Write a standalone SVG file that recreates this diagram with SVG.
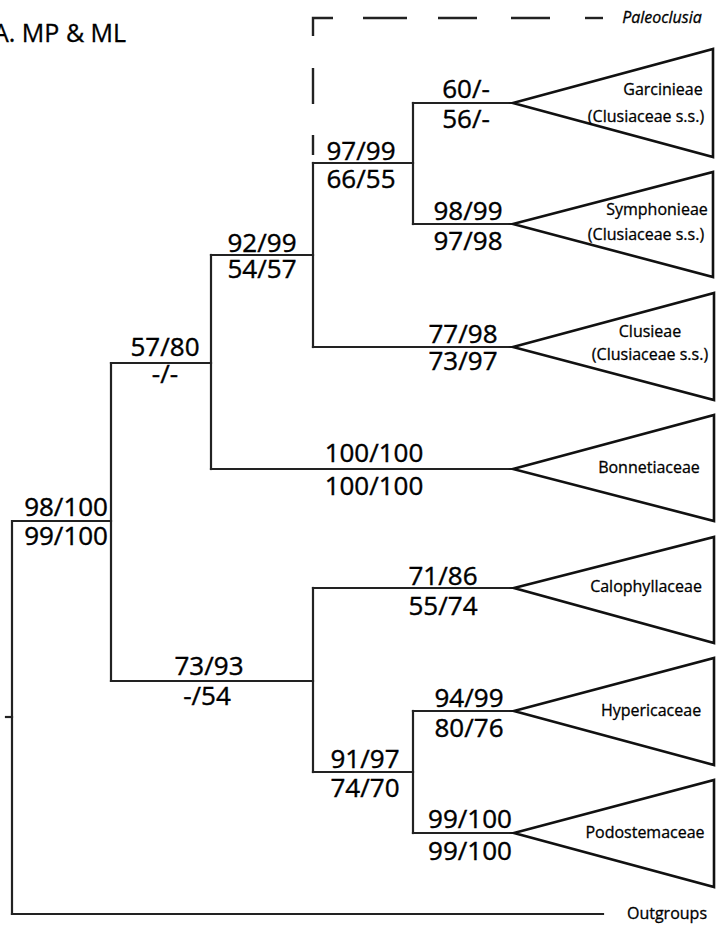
<svg xmlns="http://www.w3.org/2000/svg" width="717" height="926" viewBox="0 0 717 926">
<style>
.br{fill:none;stroke:#222;stroke-width:2.2;stroke-linecap:square}
.dash{fill:none;stroke:#222;stroke-width:2.4}
.tri{fill:#fff;stroke:#111;stroke-width:2.6;stroke-linejoin:miter}
.n{font-family:"Open Sans","Liberation Sans",sans-serif;font-size:26px;fill:#000;stroke:#000;stroke-width:0.4;text-anchor:middle}
.c{font-family:"Open Sans","Liberation Sans",sans-serif;font-size:16px;fill:#000;stroke:#000;stroke-width:0.3;text-anchor:middle}
.t{font-family:"Open Sans","Liberation Sans",sans-serif;font-size:25px;fill:#000;stroke:#000;stroke-width:0.3}
</style>
<rect width="717" height="926" fill="#fff"/>
<text class="t" x="-7" y="42">A. MP &amp; ML</text>

<g id="connectors">
<path class="br" d="M12,914 V521 H111"/>
<path class="br" d="M111,363 V681"/>
<path class="br" d="M111,363 H211"/>
<path class="br" d="M111,681 H313"/>
<path class="br" d="M211,255 V469"/>
<path class="br" d="M211,255 H313"/>
<path class="br" d="M211,469 H513"/>
<path class="br" d="M313,163 V347"/>
<path class="br" d="M313,163 H413"/>
<path class="br" d="M313,347 H513"/>
<path class="br" d="M413,103 V224"/>
<path class="br" d="M413,103 H513"/>
<path class="br" d="M413,224 H513"/>
<path class="br" d="M313,588 V772"/>
<path class="br" d="M313,588 H514"/>
<path class="br" d="M313,772 H413"/>
<path class="br" d="M413,711 V833"/>
<path class="br" d="M413,711 H514"/>
<path class="br" d="M413,833 H514"/>
<path class="br" d="M12,914 H603"/>
<path class="br" d="M6,717 H12"/>
<g id="paleoclusia-dashes">
<path class="dash" d="M313,155 V135"/>
<path class="dash" d="M313,104 V68"/>
<path class="dash" d="M313,36 V18 H333"/>
<path class="dash" d="M363,18 H407"/>
<path class="dash" d="M438,18 H477"/>
<path class="dash" d="M511,18 H550"/>
<path class="dash" d="M585,18 H603"/>
</g>
</g>

<g id="paleoclusia"><text class="c" x="662" y="23" font-style="italic">Paleoclusia</text></g>

<g id="garcinieae">
<polygon class="tri" points="513,103 713,49 713,157"/>
<text class="c" x="663" y="95">Garcinieae</text>
<text class="c" x="646" y="122">(Clusiaceae s.s.)</text>
</g>
<g id="symphonieae">
<polygon class="tri" points="513,224 713,172 713,277"/>
<text class="c" x="657" y="215">Symphonieae</text>
<text class="c" x="646" y="240">(Clusiaceae s.s.)</text>
</g>
<g id="clusieae">
<polygon class="tri" points="513,347 714,293 714,400"/>
<text class="c" x="650" y="337">Clusieae</text>
<text class="c" x="650" y="360">(Clusiaceae s.s.)</text>
</g>
<g id="bonnetiaceae">
<polygon class="tri" points="513,469 714,415 714,521"/>
<text class="c" x="649" y="473">Bonnetiaceae</text>
</g>
<g id="calophyllaceae">
<polygon class="tri" points="514,588 714,537 714,643"/>
<text class="c" x="646" y="592">Calophyllaceae</text>
</g>
<g id="hypericaceae">
<polygon class="tri" points="514,711 714,658 714,765"/>
<text class="c" x="651" y="716">Hypericaceae</text>
</g>
<g id="podostemaceae">
<polygon class="tri" points="514,833 714,780 714,887"/>
<text class="c" x="645" y="838">Podostemaceae</text>
</g>
<g id="outgroups"><text class="c" x="667" y="919">Outgroups</text></g>

<g id="support-labels">
<text class="n" x="466" y="98">60/-</text>
<text class="n" x="466" y="128">56/-</text>
<text class="n" x="361" y="160">97/99</text>
<text class="n" x="361" y="188">66/55</text>
<text class="n" x="468" y="220">98/99</text>
<text class="n" x="468" y="250">97/98</text>
<text class="n" x="262" y="252">92/99</text>
<text class="n" x="262" y="278">54/57</text>
<text class="n" x="165" y="356">57/80</text>
<text class="n" x="165" y="383">-/-</text>
<text class="n" x="463" y="343">77/98</text>
<text class="n" x="463" y="370">73/97</text>
<text class="n" x="374" y="462">100/100</text>
<text class="n" x="374" y="495">100/100</text>
<text class="n" x="108" y="516" style="text-anchor:end">98/100</text>
<text class="n" x="108" y="545" style="text-anchor:end">99/100</text>
<text class="n" x="209" y="675">73/93</text>
<text class="n" x="207" y="705">-/54</text>
<text class="n" x="443" y="585">71/86</text>
<text class="n" x="443" y="615">55/74</text>
<text class="n" x="469" y="707">94/99</text>
<text class="n" x="469" y="737">80/76</text>
<text class="n" x="365" y="768">91/97</text>
<text class="n" x="365" y="797">74/70</text>
<text class="n" x="470" y="828">99/100</text>
<text class="n" x="470" y="860">99/100</text>
</g>
</svg>
